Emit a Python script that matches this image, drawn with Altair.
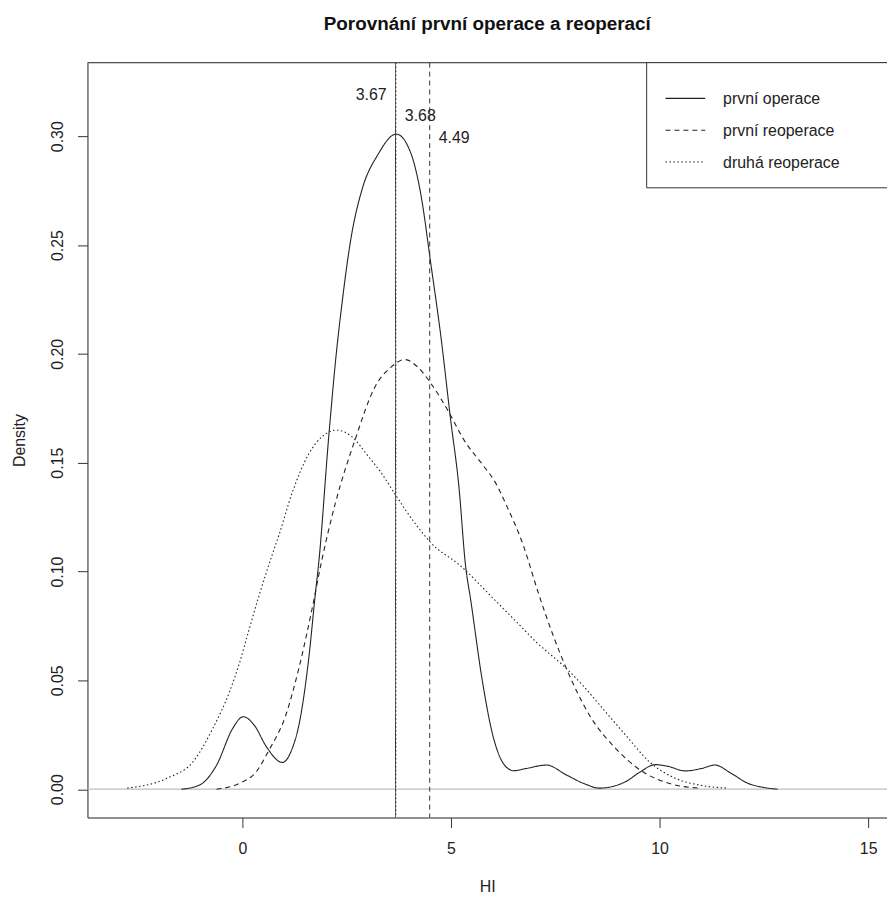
import altair as alt
import pandas as pd

# ---- data ----
series_names = ["první operace", "první reoperace", "druhá reoperace"]

hi_op1 = [-1.46, -1.02, -0.62, -0.23, 0.02, 0.30, 0.56, 0.96, 1.20, 1.35, 1.59, 1.75,
          1.83, 2.07, 2.25, 2.38, 2.62, 2.86, 3.25, 3.69, 4.05, 4.28, 4.52, 4.76, 4.99,
          5.19, 5.35, 5.47, 5.75, 6.00, 6.25, 6.50, 6.80, 7.29, 7.77, 8.20, 8.56,
          9.19, 9.50, 9.90, 10.20, 10.62, 11.00, 11.33, 11.70, 12.12, 12.50, 12.83]
dens_op1 = [0.000, 0.002, 0.011, 0.028, 0.0333, 0.029, 0.020, 0.0123, 0.019, 0.029, 0.060, 0.090,
            0.104, 0.162, 0.200, 0.222, 0.255, 0.275, 0.2916, 0.301, 0.2916, 0.273, 0.241, 0.2077, 0.170,
            0.139, 0.1026, 0.0873, 0.050, 0.025, 0.012, 0.0085, 0.0095, 0.0111, 0.0065, 0.0025, 0.0005,
            0.0035, 0.0075, 0.0113, 0.0105, 0.0084, 0.0095, 0.0111, 0.0075, 0.0027, 0.0008, 0.000]

hi_reop1 = [-0.62, -0.07, 0.33, 0.64, 1.04, 1.35, 1.67, 1.89, 2.23, 2.70, 3.18, 3.57,
            3.89, 4.20, 4.52, 4.92, 5.31, 5.79, 6.03, 6.34, 6.74, 7.09, 7.45, 7.77,
            8.32, 8.95, 9.59, 10.22, 10.93]
dens_reop1 = [0.000, 0.0027, 0.008, 0.018, 0.034, 0.0553, 0.0828, 0.104, 0.1315, 0.1605, 0.1849, 0.194,
              0.1974, 0.194, 0.1864, 0.1742, 0.1605, 0.1483, 0.142, 0.130, 0.1117, 0.0904, 0.0706, 0.0553,
              0.034, 0.0187, 0.0081, 0.0027, 0.0005]

hi_reop2 = [-2.76, -1.81, -1.18, -0.71, -0.31, -0.07, 0.17, 0.40, 0.72, 0.88, 1.19, 1.59,
            1.91, 2.26, 2.62, 3.02, 3.33, 3.69, 4.13, 4.52, 5.23, 6.03, 6.58, 7.05,
            7.69, 8.16, 8.64, 9.19, 9.75, 10.38, 11.01, 11.65]
dens_reop2 = [0.0005, 0.005, 0.0127, 0.0279, 0.0447, 0.058, 0.074, 0.089, 0.108, 0.117, 0.136, 0.154,
              0.162, 0.165, 0.162, 0.1529, 0.1453, 0.1346, 0.1224, 0.1132, 0.1026, 0.0873, 0.0767, 0.0675,
              0.0568, 0.0477, 0.037, 0.0248, 0.0127, 0.005, 0.0017, 0.0005]

means = [3.67, 4.49, 3.68]
mean_labels = ["3.67", "4.49", "3.68"]
label_heights = [0.32, 0.30, 0.31]

x_ticks = [0, 5, 10, 15]
y_ticks = [0.0, 0.05, 0.10, 0.15, 0.20, 0.25, 0.30]

title_text = "Porovnání první operace a reoperací"

# ---- tables ----
rows = []
for name, xs, ys in zip(series_names, [hi_op1, hi_reop1, hi_reop2], [dens_op1, dens_reop1, dens_reop2]):
    for i, (a, b) in enumerate(zip(xs, ys)):
        rows.append({"HI": a, "Density": b, "skupina": name, "poradi": i})
df = pd.DataFrame(rows)

df_means = pd.DataFrame({"HI": means, "Density": label_heights, "label": mean_labels,
                         "skupina": series_names})
df_zero = pd.DataFrame({"Density": [0.0]})

FONT = "Liberation Sans"
W, H = 805, 760
dash_range = [[1, 0], [5, 4], [1.5, 2.5]]

xscale = alt.Scale(domain=[-3.714, 15.452], nice=False, zero=False)
yscale = alt.Scale(domain=[-0.0130, 0.3338], nice=False, zero=False)

X = alt.X("HI:Q", scale=xscale,
          axis=alt.Axis(values=x_ticks, format="d", title="HI", grid=False,
                        tickSize=10, labelPadding=13, labelFontSize=16, labelFont=FONT,
                        labelColor="#222", domainColor="#333", tickColor="#333",
                        labelFlush=False, labelOverlap=False,
                        titleFont=FONT, titleFontSize=16, titleFontWeight="normal",
                        titleColor="#222", titleY=69, titleBaseline="middle"))
Y = alt.Y("Density:Q", scale=yscale,
          axis=alt.Axis(values=y_ticks, format=".2f", title="Density", grid=False,
                        tickSize=10, labelPadding=20, labelFontSize=16, labelFont=FONT,
                        labelColor="#222", domainColor="#333", tickColor="#333",
                        labelAngle=270, labelAlign="center", labelBaseline="middle",
                        labelFlush=False, labelOverlap=False,
                        titleFont=FONT, titleFontSize=16, titleFontWeight="normal",
                        titleColor="#222", titleX=-68, titleY=380, titleAngle=270,
                        titleAlign="center", titleBaseline="middle"))

dash = alt.StrokeDash("skupina:N", scale=alt.Scale(domain=series_names, range=dash_range), legend=None)

curves = alt.Chart(df).mark_line(interpolate="monotone", color="#222", strokeWidth=1.1).encode(
    x=X, y=Y, strokeDash=dash, order="poradi:Q")

zero_line = alt.Chart(df_zero).mark_rule(color="#bebebe", strokeWidth=1.2).encode(y=Y)

vlines = alt.Chart(df_means).mark_rule(color="#333", strokeWidth=1).encode(x=X, strokeDash=dash)

lab_left = alt.Chart(df_means).transform_filter(alt.datum.label == "3.67").mark_text(
    align="right", baseline="middle", dx=-9, dy=2, font=FONT, fontSize=16, color="#222"
).encode(x=X, y=Y, text="label:N")
lab_right = alt.Chart(df_means).transform_filter(alt.datum.label != "3.67").mark_text(
    align="left", baseline="middle", dx=9, dy=2, font=FONT, fontSize=16, color="#222"
).encode(x=X, y=Y, text="label:N")

top_border = alt.Chart(df_zero).mark_rule(color="#333", strokeWidth=1).encode(
    x=alt.value(0), x2=alt.value(W), y=alt.value(0))

legend_box = alt.Chart(df_zero).mark_rect(fill="white", stroke="#333", strokeWidth=1).encode(
    x=alt.value(563), x2=alt.value(W + 20), y=alt.value(0), y2=alt.value(126))

legend_layers = []
row_y = [36, 68, 100]
for name, dsh, yy in zip(series_names, dash_range, row_y):
    legend_layers.append(
        alt.Chart(df_zero).mark_rule(color="#222", strokeWidth=1.1, strokeDash=dsh).encode(
            x=alt.value(582), x2=alt.value(622), y=alt.value(yy)))
    legend_layers.append(
        alt.Chart(df_zero).mark_text(align="left", baseline="middle", font=FONT, fontSize=16,
                                     color="#222", text=name).encode(
            x=alt.value(640), y=alt.value(yy + 1)))

chart = alt.layer(
    zero_line, curves, vlines, lab_left, lab_right, top_border, legend_box, *legend_layers
).properties(
    width=W, height=H,
    title=alt.TitleParams(title_text, font=FONT, fontSize=19, fontWeight="bold", color="#111",
                          anchor="middle", baseline="alphabetic", offset=13),
    autosize=alt.AutoSizeParams(type="none"),
    padding={"left": 80, "top": 52, "right": 0, "bottom": 76},
).configure_view(stroke=None).configure(background="white")

chart.save("out.html", embed_options={"renderer": "svg", "actions": False})
